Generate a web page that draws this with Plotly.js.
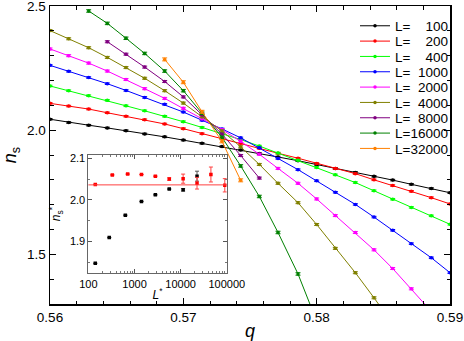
<!DOCTYPE html>
<html>
<head>
<meta charset="utf-8">
<script src="https://cdn.plot.ly/plotly-3.0.1.min.js"></script>
<style>html,body{margin:0;padding:0;background:#fff;}#chart{width:464px;height:341px;}</style>
</head>
<body>
<div id="chart"></div>
<script>
// ---- data ----
var q = [0.5600, 0.5614, 0.5629, 0.5643, 0.5657, 0.5671, 0.5686, 0.5700, 0.5714, 0.5729, 0.5743,
         0.5757, 0.5771, 0.5786, 0.5800, 0.5814, 0.5829, 0.5843, 0.5857, 0.5871, 0.5886, 0.5900];

var Ls = [100, 200, 400, 1000, 2000, 4000, 8000, 16000, 32000];
var colors = ['#000000', '#ff0000', '#00ff00', '#0000ff', '#ff00ff', '#808000', '#800080', '#008000', '#ff8000'];
var startIdx = [0, 0, 0, 0, 0, 0, 3, 2, 6];

var n100   = [2.044, 2.031, 2.020, 2.009, 1.998, 1.985, 1.973, 1.960, 1.947, 1.934, 1.920, 1.906, 1.892, 1.877, 1.862, 1.846, 1.830, 1.814, 1.799, 1.782, 1.765, 1.748];
var n200   = [2.108, 2.097, 2.085, 2.070, 2.056, 2.042, 2.025, 2.006, 1.986, 1.966, 1.947, 1.927, 1.907, 1.887, 1.866, 1.846, 1.825, 1.800, 1.777, 1.754, 1.728, 1.703];
var n400   = [2.178, 2.159, 2.139, 2.120, 2.098, 2.078, 2.056, 2.034, 2.011, 1.987, 1.962, 1.936, 1.908, 1.879, 1.850, 1.820, 1.789, 1.756, 1.722, 1.689, 1.655, 1.621];
var n1000  = [2.261, 2.237, 2.212, 2.187, 2.160, 2.132, 2.104, 2.073, 2.040, 2.005, 1.969, 1.929, 1.886, 1.841, 1.796, 1.750, 1.701, 1.650, 1.597, 1.543, 1.486, 1.426];
var n2000  = [2.327, 2.300, 2.270, 2.238, 2.204, 2.167, 2.128, 2.088, 2.046, 2.002, 1.955, 1.903, 1.846, 1.786, 1.723, 1.656, 1.588, 1.518, 1.443, 1.361, 1.270];
var n4000  = [2.401, 2.368, 2.332, 2.293, 2.252, 2.209, 2.159, 2.109, 2.054, 1.997, 1.933, 1.862, 1.786, 1.708, 1.620, 1.524, 1.426, 1.325, 1.220];
var n8000  = [2.356, 2.306, 2.254, 2.196, 2.134, 2.062, 1.984, 1.898, 1.807];
var n16000 = [2.480, 2.430, 2.370, 2.309, 2.238, 2.159, 2.068, 1.971, 1.856, 1.733, 1.588, 1.421, 1.231];
var n32000 = [2.285, 2.193, 2.074, 1.955, 1.798];
var series = [n100, n200, n400, n1000, n2000, n4000, n8000, n16000, n32000];
var errMain = [0.003, 0.003, 0.003, 0.003, 0.004, 0.004, 0.004, 0.005, 0.006];

var xTicks = [0.56, 0.57, 0.58, 0.59];
var yTicks = [1.5, 2.0, 2.5];

// inset
var LstarBlack = [141, 283, 632, 1414, 2828, 5657, 11314, 22627];
var nsBlack    = [1.847, 1.909, 1.963, 1.996, 2.012, 2.026, 2.024, 2.057];
var errBlack   = [0, 0, 0, 0, 0, 0, 0.003, 0.012];
var LstarRed   = [141, 330, 710, 1414, 2828, 5657, 11314, 22627, 45255, 90510];
var nsRed      = [2.037, 2.060, 2.062, 2.061, 2.057, 2.050, 2.051, 2.040, 2.061, 2.035];
var errRed     = [0, 0, 0, 0, 0, 0.003, 0.011, 0.014, 0.018, 0.016];
var nsRefLine  = 2.036;
var insetXTicks = [100, 1000, 10000, 100000];
var insetXTickText = ['100', '1000', '10000', '100000'];
var insetYTicks = [1.9, 2.0, 2.1];

// ---- build ----
var FONT = 'Liberation Sans, Arial, Helvetica, sans-serif';
var traces = [];
var layout = {
  width: 464, height: 341,
  margin: {l: 50, r: 14, t: 6, b: 37},
  paper_bgcolor: '#fff', plot_bgcolor: '#fff',
  font: {family: FONT, color: '#000'},
  showlegend: true,
  xaxis: {
    range: [0.56, 0.59], tickmode: 'array', tickvals: xTicks, ticktext: xTicks.map(function (v) { return v.toFixed(2); }),
    ticklabeloverflow: 'allow',
    ticks: 'inside', ticklen: 6, tickwidth: 1, tickcolor: '#000',
    showline: true, linecolor: '#000', linewidth: 1.5, mirror: 'allticks',
    showgrid: false, zeroline: false,
    minor: {ticks: 'inside', ticklen: 3.5, dtick: 0.002, tick0: 0.56, tickcolor: '#000', showgrid: false},
    tickfont: {size: 13.5, family: FONT},
    title: {text: '<i>q</i>', font: {size: 18, family: FONT}, standoff: 4}
  },
  yaxis: {
    range: [1.3, 2.5], tickmode: 'array', tickvals: yTicks, ticktext: yTicks.map(function (v) { return v.toFixed(1); }),
    ticklabeloverflow: 'allow',
    ticks: 'inside', ticklen: 6, tickwidth: 1, tickcolor: '#000',
    showline: true, linecolor: '#000', linewidth: 1.5, mirror: 'allticks',
    showgrid: false, zeroline: false,
    minor: {ticks: 'inside', ticklen: 3.5, dtick: 0.1, tick0: 1.3, tickcolor: '#000', showgrid: false},
    tickfont: {size: 13.5, family: FONT},
    title: {text: '<i>n</i><sub>s</sub>', font: {size: 18, family: FONT}, standoff: 6}
  },
  xaxis2: {
    type: 'log', range: [2, 5], tickmode: 'array', tickvals: insetXTicks, ticktext: insetXTickText,
    ticklabeloverflow: 'allow',
    domain: [0.096, 0.442], anchor: 'y2',
    ticks: 'inside', ticklen: 4, tickcolor: '#555',
    showline: true, linecolor: '#666', linewidth: 1, mirror: 'allticks',
    showgrid: false, zeroline: false,
    minor: {ticks: 'inside', ticklen: 2, dtick: 'D1', tickcolor: '#777', showgrid: false},
    tickfont: {size: 11, family: FONT},
    title: {text: '<i>L</i><sup>*</sup>', font: {size: 12, family: FONT}, standoff: 2}
  },
  yaxis2: {
    range: [1.823, 2.108], tickmode: 'array', tickvals: insetYTicks, ticktext: insetYTicks.map(function (v) { return v.toFixed(1); }),
    ticklabeloverflow: 'allow',
    domain: [0.103, 0.5], anchor: 'x2',
    ticks: 'inside', ticklen: 4, tickcolor: '#555',
    showline: true, linecolor: '#666', linewidth: 1, mirror: 'allticks',
    showgrid: false, zeroline: false,
    minor: {ticks: 'inside', ticklen: 2, dtick: 0.05, tick0: 1.9, tickcolor: '#777', showgrid: false},
    tickfont: {size: 11, family: FONT},
    title: {text: '<i>n</i><sub>s</sub><sup>*</sup>', font: {size: 12, family: FONT}, standoff: 6}
  },
  shapes: [{
    type: 'line', xref: 'x2 domain', yref: 'y2', x0: 0, x1: 1, y0: nsRefLine, y1: nsRefLine,
    line: {color: '#ff4040', width: 1}
  }]
};

for (var i = 0; i < Ls.length; i++) {
  var s = String(Ls[i]);
  var pad = '';
  for (var p = s.length; p < 5; p++) pad += '\u2007';
  var name = 'L=' + pad + s;
  var legendId = i === 0 ? 'legend' : 'legend' + (i + 1);
  var ys = series[i];
  traces.push({
    type: 'scatter', mode: 'lines+markers', name: name, legend: legendId,
    x: q.slice(startIdx[i], startIdx[i] + ys.length), y: ys,
    xaxis: 'x', yaxis: 'y',
    line: {color: colors[i], width: 1},
    marker: {color: colors[i], size: 3.5, symbol: 'circle'},
    error_y: {type: 'constant', value: errMain[i], color: colors[i], thickness: 1, width: 2.5},
    cliponaxis: true
  });
  var yPx = 26 + 15.33 * i;
  layout[legendId] = {
    x: 0.7625, xanchor: 'left', y: (304 - yPx) / 298, yanchor: 'middle',
    bgcolor: 'rgba(0,0,0,0)', borderwidth: 0,
    font: {size: 13.5, family: FONT, color: '#000'}
  };
}

traces.push({
  type: 'scatter', mode: 'markers', name: 'inset black', showlegend: false,
  x: LstarBlack, y: nsBlack, xaxis: 'x2', yaxis: 'y2',
  marker: {color: '#000', size: 3.5, symbol: 'square'},
  error_y: {type: 'data', array: errBlack, color: '#555', thickness: 1, width: 2}
});
traces.push({
  type: 'scatter', mode: 'markers', name: 'inset red', showlegend: false,
  x: LstarRed, y: nsRed, xaxis: 'x2', yaxis: 'y2',
  marker: {color: '#ff0000', size: 3.5, symbol: 'square'},
  error_y: {type: 'data', array: errRed, color: '#ff4040', thickness: 1, width: 2}
});

Plotly.newPlot('chart', traces, layout, {staticPlot: true, displayModeBar: false});
</script>
</body>
</html>
